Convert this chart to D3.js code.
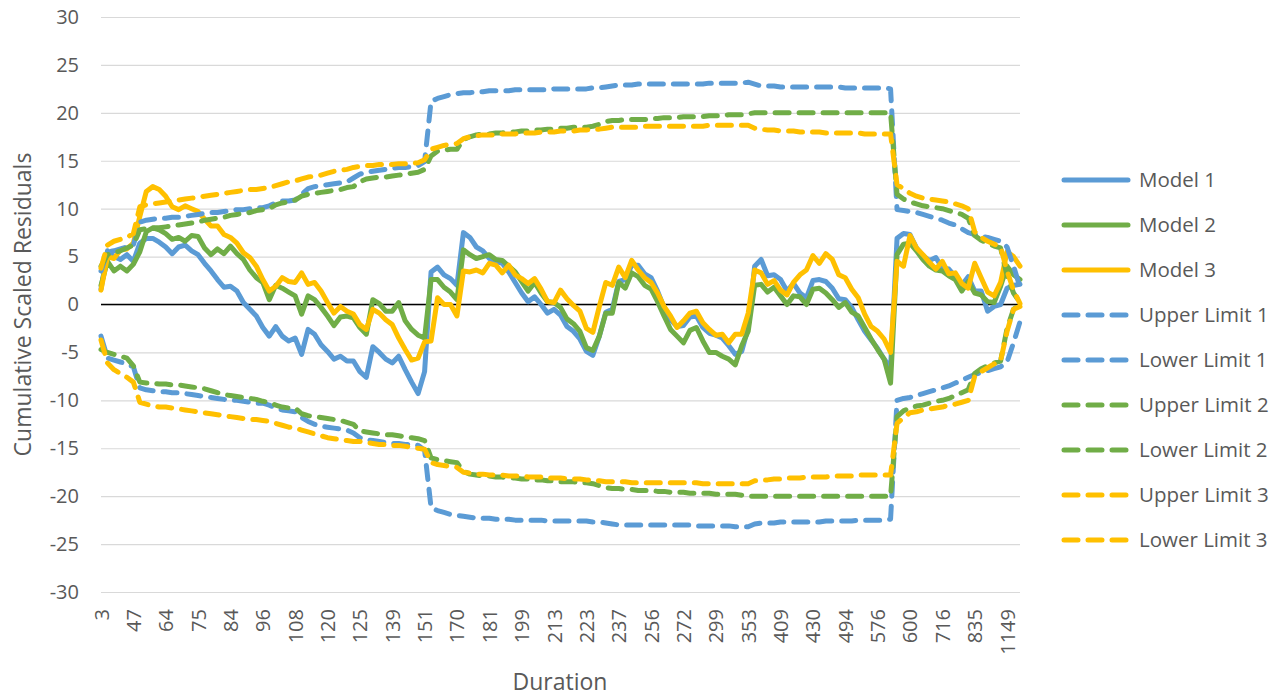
<!DOCTYPE html>
<html>
<head>
<meta charset="utf-8">
<script src="https://cdn.jsdelivr.net/npm/d3@7"></script>
<style>
  body { margin: 0; background: #fff; }
  text { font-family: "Open Sans", sans-serif; fill: #595959; }
</style>
</head>
<body>
<script>
// Tick labels (every 5th duration category)
var tickLabels = ["3", "47", "64", "75", "84", "96", "108", "120", "125", "139", "151", "170", "181", "199",
  "213", "223", "237", "256", "272", "299", "353", "409", "430", "494", "576", "600", "716", "835", "1149"];
var labelStep = 5;
var pointCount = 143;

var yTicks = [-30, -25, -20, -15, -10, -5, 0, 5, 10, 15, 20, 25, 30];

// Series values
var model1 = [1.6, 5.6, 5.0, 4.7, 5.2, 4.5, 6.4, 6.9, 6.9, 6.5,
  6.0, 5.3, 6.0, 6.2, 5.6, 5.2, 4.3, 3.5, 2.6, 1.8,
  1.9, 1.4, 0.2, -0.5, -1.2, -2.4, -3.3, -2.3, -3.3, -3.8,
  -3.5, -5.2, -2.6, -3.1, -4.2, -4.9, -5.7, -5.4, -5.9, -5.9,
  -7.0, -7.6, -4.4, -5.0, -5.7, -6.1, -5.4, -6.8, -8.1, -9.3,
  -7.0, 3.4, 3.9, 3.1, 2.7, 2.0, 7.5, 7.0, 6.0, 5.6,
  4.8, 4.5, 4.3, 3.4, 2.3, 1.2, 0.3, 0.8, 0.0, -0.9,
  -0.5, -1.1, -2.3, -2.8, -3.6, -4.9, -5.3, -3.3, -0.8, -0.5,
  2.4, 2.6, 4.1, 4.1, 3.2, 2.8, 1.4, -0.3, -1.6, -2.3,
  -2.2, -1.3, -1.2, -2.4, -3.0, -3.2, -3.5, -4.3, -5.2, -4.9,
  -2.4, 4.0, 4.7, 3.0, 3.1, 2.6, 1.4, 2.2, 1.2, 0.7,
  2.5, 2.6, 2.4, 1.7, 0.6, 0.5, -0.3, -1.6, -2.8, -3.7,
  -4.6, -5.7, -6.6, 6.9, 7.4, 7.3, 5.9, 5.1, 4.6, 4.9,
  3.8, 3.7, 2.9, 2.0, 2.9, 1.4, 1.4, -0.7, -0.2, 0.0,
  1.7, 2.0, 2.1];

var model2 = [2.0, 4.5, 3.5, 4.0, 3.5, 4.2, 5.5, 7.6, 8.0, 7.8,
  7.4, 6.8, 7.0, 6.6, 7.2, 7.1, 5.9, 5.2, 5.8, 5.3,
  6.1, 5.3, 4.7, 3.6, 2.8, 2.3, 0.5, 2.0, 1.7, 1.3,
  0.9, -1.0, 0.9, 0.5, -0.3, -1.2, -2.2, -1.3, -1.2, -1.4,
  -2.4, -3.1, 0.5, 0.1, -0.7, -0.7, 0.2, -1.7, -2.6, -3.2,
  -3.5, 2.6, 2.6, 1.8, 1.3, 0.5, 5.7, 5.2, 4.8, 5.0,
  5.2, 4.7, 4.6, 4.0, 3.4, 2.4, 1.4, 2.3, 1.2, 0.3,
  0.2, -0.3, -1.5, -2.0, -2.8, -4.5, -4.8, -3.3, -0.9, -0.9,
  2.3, 1.7, 3.3, 2.9, 2.0, 1.6, 0.3, -1.2, -2.6, -3.3,
  -4.0, -2.7, -2.4, -3.8, -5.0, -5.0, -5.4, -5.7, -6.3, -4.3,
  -2.8, 2.0, 2.1, 1.3, 1.8, 0.9, 0.0, 0.9, 0.8, 0.0,
  1.6, 1.7, 1.2, 0.5, -0.3, 0.2, -0.8, -1.2, -2.4, -3.6,
  -4.7, -5.7, -8.2, 5.2, 6.3, 6.4, 5.6, 4.7, 4.0, 3.6,
  3.5, 3.0, 2.6, 1.4, 2.4, 1.2, 1.0, 0.3, 0.2, 1.9,
  4.0, 3.1, 2.6];

var model3 = [1.5, 5.0, 4.8, 5.7, 5.8, 6.4, 9.2, 11.8, 12.3, 12.0,
  11.3, 10.2, 9.9, 10.3, 10.0, 9.7, 8.9, 8.2, 8.2, 7.3,
  7.0, 6.4, 5.4, 4.9, 4.0, 2.6, 1.4, 1.9, 2.8, 2.4,
  2.3, 3.3, 2.1, 2.3, 1.4, 0.2, -0.9, -0.2, -0.7, -1.0,
  -2.1, -2.6, -0.5, -0.9, -1.6, -2.1, -3.5, -4.7, -5.8, -5.6,
  -3.9, -3.8, 0.7, 0.0, 0.0, -1.2, 3.5, 3.4, 3.6, 3.3,
  4.3, 4.1, 3.3, 4.1, 3.1, 2.7, 2.2, 2.7, 1.6, 0.3,
  0.2, 1.5, 0.6, -0.1, -0.7, -2.5, -2.9, -0.2, 2.3, 2.0,
  3.9, 2.8, 4.6, 3.6, 2.8, 2.3, 1.2, -0.2, -1.2, -2.4,
  -1.7, -0.9, -0.7, -1.9, -2.6, -3.2, -3.1, -4.0, -3.1, -3.1,
  -0.9, 3.6, 3.3, 2.1, 2.5, 1.5, 1.0, 2.3, 3.1, 3.6,
  5.1, 4.3, 5.3, 4.7, 3.1, 2.8, 1.6, 0.7, -1.0, -2.3,
  -2.8, -3.6, -5.0, 4.5, 4.0, 7.2, 5.9, 5.2, 4.4, 3.7,
  4.5, 3.2, 3.3, 2.2, 1.7, 4.3, 2.8, 1.3, 0.9, 2.3,
  5.5, 5.0, 4.0];

var upper1 = [3.5, 5.5, 5.6, 5.8, 6.0, 6.2, 8.6, 8.8, 8.9, 9.0,
  9.0, 9.1, 9.1, 9.2, 9.3, 9.4, 9.5, 9.6, 9.6, 9.7,
  9.8, 9.9, 9.9, 10.0, 10.1, 10.1, 10.3, 10.6, 10.8, 10.8,
  10.9, 11.5, 12.1, 12.3, 12.4, 12.5, 12.6, 12.7, 12.8, 13.2,
  13.6, 13.8, 13.9, 14.0, 14.1, 14.2, 14.3, 14.3, 14.4, 14.5,
  14.9, 21.2, 21.5, 21.7, 21.9, 22.0, 22.1, 22.1, 22.2, 22.2,
  22.3, 22.3, 22.3, 22.3, 22.4, 22.4, 22.4, 22.4, 22.4, 22.4,
  22.5, 22.5, 22.5, 22.5, 22.5, 22.5, 22.6, 22.6, 22.7, 22.8,
  22.9, 22.9, 22.9, 23.0, 23.0, 23.0, 23.0, 23.0, 23.0, 23.0,
  23.0, 23.0, 23.0, 23.0, 23.1, 23.1, 23.1, 23.1, 23.1, 23.1,
  23.2, 23.0, 22.8, 22.8, 22.8, 22.7, 22.7, 22.7, 22.7, 22.7,
  22.7, 22.7, 22.7, 22.7, 22.7, 22.6, 22.6, 22.6, 22.6, 22.6,
  22.6, 22.6, 22.5, 9.9, 9.8, 9.7, 9.6, 9.4, 9.2, 9.0,
  8.8, 8.5, 8.3, 7.9, 7.5, 7.3, 7.1, 7.0, 6.8, 6.6,
  6.0, 4.0, 1.8];

var lower1 = [-3.3, -5.6, -5.8, -6.0, -6.2, -6.5, -8.7, -8.9, -9.0, -9.1,
  -9.1, -9.2, -9.2, -9.3, -9.4, -9.5, -9.6, -9.7, -9.8, -9.9,
  -10.0, -10.0, -10.1, -10.2, -10.3, -10.3, -10.5, -10.8, -11.0, -11.1,
  -11.2, -11.8, -12.2, -12.5, -12.7, -12.8, -12.9, -13.0, -13.1, -13.4,
  -13.9, -14.1, -14.2, -14.3, -14.4, -14.5, -14.5, -14.6, -14.6, -14.7,
  -15.2, -21.2, -21.5, -21.7, -21.9, -22.0, -22.1, -22.2, -22.3, -22.3,
  -22.3, -22.4, -22.4, -22.4, -22.5, -22.5, -22.5, -22.5, -22.5, -22.6,
  -22.6, -22.6, -22.6, -22.6, -22.6, -22.6, -22.7, -22.7, -22.8, -22.9,
  -23.0, -23.0, -23.0, -23.0, -23.0, -23.0, -23.0, -23.0, -23.0, -23.0,
  -23.0, -23.0, -23.1, -23.1, -23.1, -23.1, -23.1, -23.1, -23.2, -23.2,
  -23.2, -22.9, -22.8, -22.8, -22.8, -22.7, -22.7, -22.7, -22.7, -22.7,
  -22.7, -22.7, -22.6, -22.6, -22.6, -22.6, -22.6, -22.5, -22.5, -22.5,
  -22.5, -22.5, -22.4, -10.0, -9.8, -9.7, -9.5, -9.3, -9.1, -8.9,
  -8.7, -8.5, -8.2, -7.9, -7.6, -7.3, -7.1, -6.9, -6.7, -6.5,
  -6.0, -4.0, -1.8];

var upper2 = [4.0, 5.2, 5.4, 5.6, 5.9, 6.2, 7.8, 7.9, 8.0, 8.0,
  8.1, 8.2, 8.3, 8.4, 8.5, 8.6, 8.8, 8.9, 9.0, 9.1,
  9.3, 9.4, 9.5, 9.6, 9.8, 9.9, 10.0, 10.4, 10.6, 10.7,
  10.9, 11.3, 11.5, 11.6, 11.7, 11.8, 11.9, 12.0, 12.2, 12.3,
  12.8, 13.1, 13.2, 13.3, 13.3, 13.4, 13.5, 13.6, 13.7, 13.8,
  14.1, 15.5, 16.0, 16.1, 16.2, 16.2, 17.2, 17.5, 17.7, 17.8,
  17.8, 17.9, 17.9, 18.0, 18.0, 18.1, 18.1, 18.2, 18.2, 18.3,
  18.3, 18.4, 18.4, 18.5, 18.5, 18.5, 18.6, 18.8, 19.1, 19.2,
  19.2, 19.3, 19.3, 19.3, 19.3, 19.4, 19.4, 19.5, 19.5, 19.5,
  19.6, 19.6, 19.6, 19.6, 19.7, 19.7, 19.7, 19.8, 19.8, 19.8,
  19.9, 20.0, 20.0, 20.0, 20.0, 20.0, 20.0, 20.0, 20.0, 20.0,
  20.0, 20.0, 20.0, 20.0, 20.0, 20.0, 20.0, 20.0, 20.0, 20.0,
  20.0, 20.0, 20.0, 11.5, 11.0, 10.7, 10.5, 10.3, 10.2, 10.1,
  10.0, 9.8, 9.6, 9.4, 9.0, 7.2, 6.7, 6.4, 6.1, 5.9,
  3.0, 1.2, 0.2];

var lower2 = [-4.7, -5.0, -5.2, -5.4, -5.6, -6.4, -8.1, -8.2, -8.2, -8.3,
  -8.3, -8.4, -8.4, -8.5, -8.6, -8.7, -8.8, -9.0, -9.2, -9.4,
  -9.5, -9.6, -9.7, -9.8, -9.9, -10.1, -10.2, -10.5, -10.7, -10.8,
  -10.8, -11.4, -11.6, -11.7, -11.8, -11.9, -12.0, -12.1, -12.3, -12.5,
  -13.2, -13.3, -13.4, -13.5, -13.6, -13.6, -13.7, -13.8, -13.9, -14.0,
  -14.2, -16.0, -16.2, -16.3, -16.4, -16.5, -17.4, -17.7, -17.8, -17.9,
  -17.9, -18.0, -18.0, -18.1, -18.1, -18.2, -18.2, -18.3, -18.3, -18.4,
  -18.4, -18.5, -18.5, -18.5, -18.6, -18.6, -18.7, -18.9, -19.1, -19.2,
  -19.2, -19.3, -19.3, -19.4, -19.4, -19.4, -19.5, -19.5, -19.6, -19.6,
  -19.6, -19.7, -19.7, -19.7, -19.7, -19.8, -19.8, -19.8, -19.8, -19.9,
  -20.0, -20.0, -20.0, -20.0, -20.0, -20.0, -20.0, -20.0, -20.0, -20.0,
  -20.0, -20.0, -20.0, -20.0, -20.0, -20.0, -20.0, -20.0, -20.0, -20.0,
  -20.0, -20.0, -20.0, -11.7, -11.1, -10.8, -10.6, -10.5, -10.3, -10.1,
  -10.0, -9.8, -9.5, -9.2, -8.9, -7.2, -6.7, -6.4, -6.1, -5.9,
  -2.5, -0.5, 0.0];

var upper3 = [3.8, 6.2, 6.6, 6.8, 7.0, 7.4, 10.2, 10.4, 10.5, 10.6,
  10.7, 10.8, 10.9, 11.0, 11.1, 11.2, 11.3, 11.4, 11.5, 11.6,
  11.7, 11.8, 11.9, 12.0, 12.0, 12.1, 12.2, 12.4, 12.6, 12.8,
  12.9, 13.1, 13.3, 13.4, 13.5, 13.7, 13.9, 14.0, 14.1, 14.3,
  14.4, 14.5, 14.5, 14.6, 14.6, 14.6, 14.7, 14.7, 14.7, 14.8,
  15.1, 16.2, 16.4, 16.6, 16.7, 16.8, 17.3, 17.5, 17.6, 17.7,
  17.7, 17.7, 17.8, 17.8, 17.8, 17.9, 17.9, 17.9, 18.0, 18.0,
  18.0, 18.1, 18.1, 18.1, 18.2, 18.2, 18.3, 18.3, 18.4, 18.5,
  18.5, 18.5, 18.5, 18.5, 18.6, 18.6, 18.6, 18.6, 18.6, 18.6,
  18.6, 18.6, 18.6, 18.6, 18.7, 18.7, 18.7, 18.7, 18.7, 18.7,
  18.7, 18.4, 18.3, 18.2, 18.2, 18.1, 18.1, 18.1, 18.0, 18.0,
  18.0, 18.0, 17.9, 17.9, 17.9, 17.9, 17.9, 17.9, 17.8, 17.8,
  17.8, 17.8, 17.8, 12.5, 12.1, 11.6, 11.3, 11.1, 11.0, 10.9,
  10.8, 10.7, 10.5, 10.3, 10.0, 7.6, 7.0, 6.6, 6.3, 6.0,
  3.5, 1.5, 0.1];

var lower3 = [-3.7, -6.1, -6.8, -7.2, -7.6, -8.1, -10.2, -10.4, -10.6, -10.7,
  -10.7, -10.8, -10.9, -11.0, -11.1, -11.2, -11.3, -11.4, -11.5, -11.6,
  -11.7, -11.8, -11.9, -12.0, -12.0, -12.1, -12.2, -12.4, -12.6, -12.8,
  -12.9, -13.1, -13.3, -13.5, -13.7, -13.9, -14.0, -14.1, -14.2, -14.3,
  -14.3, -14.4, -14.5, -14.6, -14.6, -14.7, -14.7, -14.8, -14.9, -15.0,
  -15.1, -16.5, -16.7, -16.8, -16.9, -17.0, -17.5, -17.6, -17.7, -17.7,
  -17.8, -17.8, -17.8, -17.9, -17.9, -17.9, -18.0, -18.0, -18.0, -18.1,
  -18.1, -18.1, -18.2, -18.2, -18.2, -18.3, -18.3, -18.4, -18.5, -18.5,
  -18.5, -18.5, -18.6, -18.6, -18.6, -18.6, -18.6, -18.6, -18.6, -18.6,
  -18.6, -18.6, -18.6, -18.7, -18.7, -18.7, -18.7, -18.7, -18.7, -18.7,
  -18.7, -18.4, -18.3, -18.3, -18.2, -18.2, -18.1, -18.1, -18.1, -18.0,
  -18.0, -18.0, -18.0, -17.9, -17.9, -17.9, -17.9, -17.8, -17.8, -17.8,
  -17.8, -17.8, -17.8, -12.4, -11.8, -11.3, -11.2, -11.0, -10.9, -10.8,
  -10.7, -10.5, -10.4, -10.2, -10.0, -7.5, -7.0, -6.6, -6.2, -5.9,
  -2.8, -0.5, -0.2];

// Series list, drawn in this order
var series = [
  { name: "Model 1", values: model1, color: "#5B9BD5", dashed: false },
  { name: "Model 2", values: model2, color: "#70AD47", dashed: false },
  { name: "Model 3", values: model3, color: "#FFC000", dashed: false },
  { name: "Upper Limit 1", values: upper1, color: "#5B9BD5", dashed: true },
  { name: "Lower Limit 1", values: lower1, color: "#5B9BD5", dashed: true },
  { name: "Upper Limit 2", values: upper2, color: "#70AD47", dashed: true },
  { name: "Lower Limit 2", values: lower2, color: "#70AD47", dashed: true },
  { name: "Upper Limit 3", values: upper3, color: "#FFC000", dashed: true },
  { name: "Lower Limit 3", values: lower3, color: "#FFC000", dashed: true }
];

var width = 1283;
var height = 698;
var plotLeft = 101, plotRight = 1020, plotTop = 17, plotBottom = 592;
var lineWidth = 5;
var dash = "14,10";

var svg = d3.select("body").append("svg")
  .attr("width", width)
  .attr("height", height);

var x = d3.scaleLinear().domain([0, pointCount - 1]).range([plotLeft, plotRight]);
var y = d3.scaleLinear().domain([-30, 30]).range([plotBottom, plotTop]);

// Gridlines
svg.append("g")
  .attr("transform", "translate(" + plotLeft + ",0)")
  .call(d3.axisLeft(y).tickValues(yTicks).tickSize(-(plotRight - plotLeft)).tickFormat(""))
  .call(function (g) { g.select(".domain").remove(); })
  .selectAll("line")
  .attr("stroke", "#D9D9D9")
  .attr("stroke-width", 1.2);

// Y tick labels (plain hyphen for negatives, like the original)
svg.append("g")
  .attr("transform", "translate(" + (plotLeft - 22) + ",0)")
  .call(d3.axisLeft(y).tickValues(yTicks).tickSize(0).tickPadding(0)
    .tickFormat(function (d) { return String(d); }))
  .call(function (g) { g.select(".domain").remove(); })
  .selectAll("text")
  .style("font-size", "20px")
  .style("font-family", "'Open Sans', sans-serif")
  .attr("fill", "#595959");

// X tick labels, rotated
var tickIdx = tickLabels.map(function (d, i) { return i * labelStep; });
var xAxis = svg.append("g")
  .attr("transform", "translate(0," + plotBottom + ")")
  .call(d3.axisBottom(x).tickValues(tickIdx).tickSize(0)
    .tickFormat(function (d) { return tickLabels[d / labelStep]; }))
  .call(function (g) { g.select(".domain").remove(); });
xAxis.selectAll("text")
  .attr("transform", "rotate(-90)")
  .attr("text-anchor", "end")
  .attr("x", -17)
  .attr("y", 0)
  .attr("dy", "0.35em")
  .style("font-size", "20px")
  .style("font-family", "'Open Sans', sans-serif")
  .attr("fill", "#595959");

// Zero line
svg.append("line")
  .attr("x1", plotLeft).attr("x2", plotRight)
  .attr("y1", y(0)).attr("y2", y(0))
  .attr("stroke", "#000")
  .attr("stroke-width", 1.6);

// Lines
var line = d3.line()
  .x(function (d, i) { return x(i); })
  .y(function (d) { return y(d); });

svg.selectAll(".series")
  .data(series)
  .enter()
  .append("path")
  .attr("class", "series")
  .attr("d", function (d) { return line(d.values); })
  .attr("fill", "none")
  .attr("stroke", function (d) { return d.color; })
  .attr("stroke-width", lineWidth)
  .attr("stroke-linejoin", "round")
  .attr("stroke-linecap", "round")
  .attr("stroke-dasharray", function (d) { return d.dashed ? dash : null; });

// Axis titles
svg.append("text")
  .attr("transform", "translate(31," + y(0) + ") rotate(-90)")
  .attr("text-anchor", "middle")
  .style("font-size", "23px")
  .text("Cumulative Scaled Residuals");

svg.append("text")
  .attr("x", 560)
  .attr("y", 690)
  .attr("text-anchor", "middle")
  .style("font-size", "23px")
  .text("Duration");

// Legend
var legend = svg.selectAll(".legend")
  .data(series)
  .enter()
  .append("g")
  .attr("class", "legend")
  .attr("transform", function (d, i) { return "translate(1064," + (180 + i * 45) + ")"; });

legend.append("line")
  .attr("x1", 0).attr("x2", 64)
  .attr("stroke", function (d) { return d.color; })
  .attr("stroke-width", lineWidth)
  .attr("stroke-linecap", "round")
  .attr("stroke-dasharray", function (d) { return d.dashed ? dash : null; });

legend.append("text")
  .attr("x", 75)
  .attr("dy", "0.35em")
  .style("font-size", "20.5px")
  .text(function (d) { return d.name; });
</script>
</body>
</html>
